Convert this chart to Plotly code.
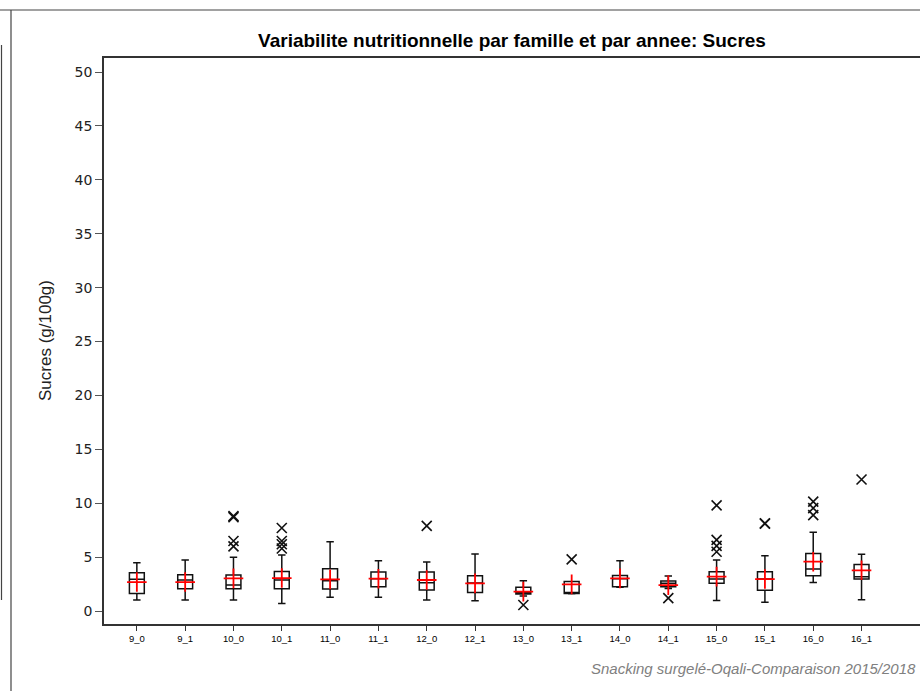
import plotly.graph_objects as go

categories = ["9_0", "9_1", "10_0", "10_1", "11_0", "11_1", "12_0", "12_1",
              "13_0", "13_1", "14_0", "14_1", "15_0", "15_1", "16_0", "16_1"]
q1_vals = [1.64, 2.07, 2.07, 2.07, 2.04, 2.26, 1.95, 1.73, 1.58, 1.62, 2.26, 2.26, 2.57, 1.92, 3.28, 2.97]
median_vals = [2.94, 2.88, 2.41, 2.88, 2.82, 3.00, 2.63, 2.60, 1.73, 1.70, 3.00, 2.57, 2.97, 2.97, 3.90, 3.19]
q3_vals = [3.56, 3.37, 3.34, 3.68, 3.93, 3.62, 3.62, 3.28, 2.20, 2.75, 3.31, 2.79, 3.65, 3.65, 5.35, 4.33]
lower_vals = [1.02, 1.02, 1.02, 0.71, 1.27, 1.27, 1.02, 0.96, 1.40, 1.60, 2.22, 2.10, 0.99, 0.81, 2.66, 1.05]
upper_vals = [4.49, 4.73, 4.98, 5.20, 6.44, 4.67, 4.55, 5.29, 2.82, 2.75, 4.67, 3.25, 4.73, 5.14, 7.30, 5.26]
mean_vals = [2.69, 2.69, 3.03, 3.06, 2.94, 3.00, 2.88, 2.57, 1.80, 2.48, 3.03, 2.41, 3.19, 2.97, 4.58, 3.78]

outlier_cats = ["10_0", "10_0", "10_0", "10_0",
                "10_1", "10_1", "10_1", "10_1",
                "12_0", "13_0", "13_1", "14_1",
                "15_0", "15_0", "15_0", "15_0",
                "15_1", "15_1",
                "16_0", "16_0", "16_0",
                "16_1"]
outlier_vals = [8.70, 8.80, 6.50, 6.00,
                7.70, 6.50, 6.20, 5.80,
                7.90, 0.56, 4.80, 1.20,
                9.80, 6.60, 6.05, 5.50,
                8.10, 8.15,
                10.15, 9.55, 8.90,
                12.20]

y_ticks = [0, 5, 10, 15, 20, 25, 30, 35, 40, 45, 50]

fig = go.Figure()

fig.add_trace(go.Box(
    x=categories, q1=q1_vals, median=median_vals, q3=q3_vals,
    lowerfence=lower_vals, upperfence=upper_vals,
    boxpoints=False, fillcolor="white",
    line=dict(color="#111", width=1.5),
    whiskerwidth=0.5, showlegend=False, hoverinfo="skip",
))

fig.add_trace(go.Scatter(
    x=categories, y=mean_vals, mode="markers",
    marker=dict(symbol="cross-thin", size=14, line=dict(color="red", width=1.8)),
    showlegend=False, hoverinfo="skip",
))

fig.add_trace(go.Scatter(
    x=outlier_cats, y=outlier_vals, mode="markers",
    marker=dict(symbol="x-thin", size=10, line=dict(color="#111", width=1.6)),
    showlegend=False, hoverinfo="skip",
))

L, T, B = 104, 58, 67
W, H = 920, 691
pw, ph = W - L, H - T - B

def px_x(x):
    return (x - L) / pw

def px_y(y):
    return (H - B - y) / ph

fig.update_layout(
    width=W, height=H,
    margin=dict(l=L, r=0, t=T, b=B),
    paper_bgcolor="white", plot_bgcolor="white",
    boxgap=0.56,
    font=dict(family="Liberation Sans, Arial, sans-serif", color="black"),
    title=dict(
        text="<b>Variabilite nutritionnelle par famille et par annee: Sucres</b>",
        x=0.5, xref="paper", xanchor="center",
        y=1 - 40 / H, yref="container", yanchor="middle",
        font=dict(size=19, color="black"),
    ),
    xaxis=dict(
        type="category", categoryorder="array", categoryarray=categories,
        range=[-0.68, 16.21],
        showline=True, linecolor="#333", linewidth=1.5, mirror=True,
        ticks="outside", ticklen=5, tickcolor="#333", tickwidth=1,
        tickfont=dict(size=9.5, color="black"),
        showgrid=False, zeroline=False,
    ),
    yaxis=dict(
        range=[-1.2, 51.3],
        tickvals=y_ticks,
        showline=True, linecolor="#333", linewidth=1.5,
        ticks="outside", ticklen=7, tickcolor="#555", tickwidth=1,
        tickfont=dict(size=14, color="#222", family="DejaVu Sans, sans-serif"),
        showgrid=False, zeroline=False,
    ),
    annotations=[
        dict(text="Sucres (g/100g)", textangle=-90,
             x=px_x(45), y=px_y(340), xref="paper", yref="paper",
             xanchor="center", yanchor="middle", showarrow=False,
             font=dict(size=17, color="#222")),
        dict(text="Snacking surgelé-Oqali-Comparaison 2015/2018",
             x=px_x(918), y=px_y(668), xref="paper", yref="paper",
             xanchor="right", yanchor="middle", showarrow=False,
             font=dict(size=15, color="#808080", style="italic")),
    ],
    shapes=[
        dict(type="line", xref="paper", yref="paper",
             x0=px_x(0), x1=px_x(920), y0=px_y(10), y1=px_y(10),
             line=dict(color="#444", width=1.2)),
        dict(type="line", xref="paper", yref="paper",
             x0=px_x(11), x1=px_x(11), y0=px_y(10), y1=px_y(691),
             line=dict(color="#444", width=1.2)),
        dict(type="line", xref="paper", yref="paper",
             x0=px_x(1.5), x1=px_x(1.5), y0=px_y(45), y1=px_y(600),
             line=dict(color="#444", width=1.2)),
    ],
)

fig.write_html("out.html",
               config={"displayModeBar": False},
               post_script="document.body.style.margin='0';document.body.style.overflow='hidden';")
